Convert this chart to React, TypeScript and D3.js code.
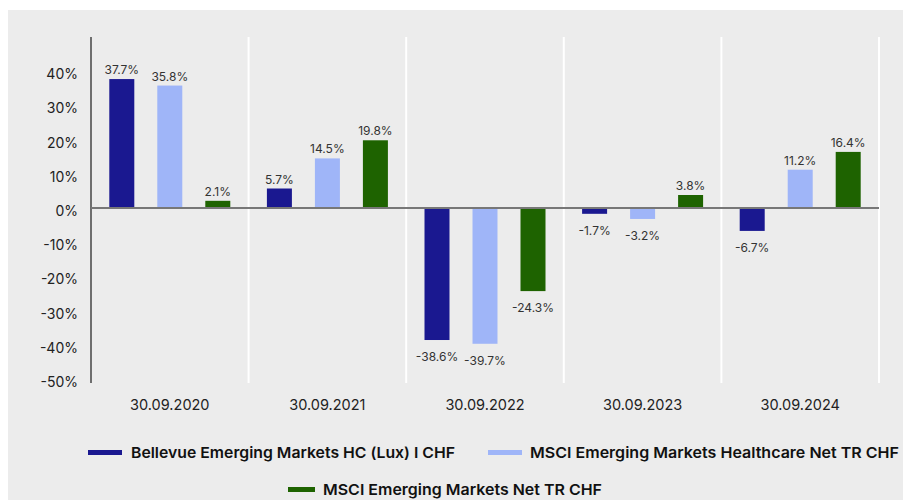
import { scaleBand, scaleLinear } from "d3";

const categories = ["30.09.2020", "30.09.2021", "30.09.2022", "30.09.2023", "30.09.2024"];
const seriesNames = [
  "Bellevue Emerging Markets HC (Lux) I CHF",
  "MSCI Emerging Markets Healthcare Net TR CHF",
  "MSCI Emerging Markets Net TR CHF",
];
const fundValues = [37.7, 5.7, -38.6, -1.7, -6.7];
const healthcareValues = [35.8, 14.5, -39.7, -3.2, 11.2];
const marketValues = [2.1, 19.8, -24.3, 3.8, 16.4];
const yTicks = [-50, -40, -30, -20, -10, 0, 10, 20, 30, 40];

const colors = ["#1a1890", "#9fb5f8", "#1e6300"];
const series = [fundValues, healthcareValues, marketValues];

export default function App() {
  const width = 903;
  const height = 500;
  const left = 91;
  const right = 879;
  const top = 37;
  const bottom = 383;

  const x = scaleBand<string>().domain(categories).range([left, right]);
  const y = scaleLinear().domain([-50, 50]).range([bottom - 4, top]);
  const barW = 25;
  const step = 48;
  const font = "Inter, 'Noto Sans', sans-serif";

  // legend placement: swatch x, text x, baseline row, text width
  const legend = [
    { sx: 88, sw: 34, tx: 131, y: 453, w: 324 },
    { sx: 488, sw: 34, tx: 530, y: 453, w: 369 },
    { sx: 288, sw: 27, tx: 323, y: 490, w: 279 },
  ];

  return (
    <svg
      width={width}
      height={height}
      style={{ position: "absolute", left: 0, top: 0, background: "#ffffff" }}
    >
      <rect x={8} y={10} width={width - 8} height={height - 10} fill="#ececec" />

      {/* vertical separators */}
      {categories.map((c) => (
        <line
          key={c}
          x1={(x(c) ?? 0) + x.bandwidth()}
          x2={(x(c) ?? 0) + x.bandwidth()}
          y1={top}
          y2={bottom}
          stroke="#ffffff"
          strokeWidth={2}
        />
      ))}

      {/* y axis */}
      <line x1={left} x2={left} y1={top} y2={bottom} stroke="#6e6e6e" strokeWidth={2} />
      {yTicks.map((t) => (
        <text
          key={t}
          x={left - 13}
          y={y(t) + 3}
          dy="0.35em"
          textAnchor="end"
          fontFamily={font}
          fontSize={14}
          fill="#222"
        >
          {t}%
        </text>
      ))}

      {/* bars */}
      {categories.map((c, i) => {
        const cx = (x(c) ?? 0) + x.bandwidth() / 2;
        return series.map((vals, s) => {
          const v = vals[i];
          const bx = cx + (s - 1) * step - barW / 2;
          const y0 = y(0);
          const yv = y(v);
          return (
            <g key={c + s}>
              <rect
                x={bx}
                y={Math.min(y0, yv)}
                width={barW}
                height={Math.abs(yv - y0)}
                fill={colors[s]}
              />
              <text
                x={bx + barW / 2}
                y={v >= 0 ? yv - 5 : yv + 21}
                textAnchor="middle"
                fontFamily={font}
                fontSize={12}
                fill="#333"
              >
                {v.toFixed(1)}%
              </text>
            </g>
          );
        });
      })}

      {/* zero line */}
      <line x1={left} x2={right} y1={y(0)} y2={y(0)} stroke="#777" strokeWidth={2} />

      {/* category labels */}
      {categories.map((c) => (
        <text
          key={c}
          x={(x(c) ?? 0) + x.bandwidth() / 2}
          y={410}
          textAnchor="middle"
          fontFamily={font}
          fontSize={14.5}
          fill="#222"
        >
          {c}
        </text>
      ))}

      {/* legend */}
      {legend.map((p, s) => (
        <g key={seriesNames[s]}>
          <rect x={p.sx} y={p.y - 3} width={p.sw} height={5} fill={colors[s]} />
          <text
            x={p.tx}
            y={p.y + 5}
            fontFamily={font}
            fontSize={15}
            fontWeight={600}
            fill="#111"
            textLength={p.w}
            lengthAdjust="spacingAndGlyphs"
          >
            {seriesNames[s]}
          </text>
        </g>
      ))}
    </svg>
  );
}
